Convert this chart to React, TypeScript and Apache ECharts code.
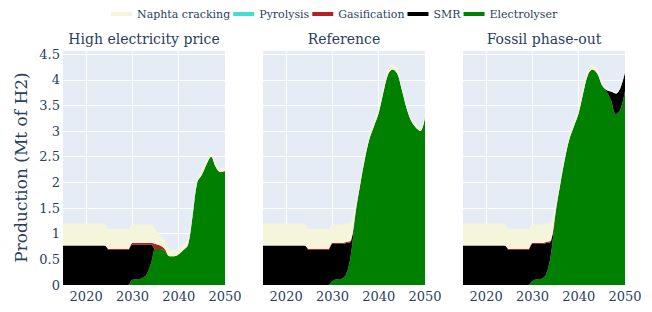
import React, { useEffect, useRef } from 'react';
import * as echarts from 'echarts';

const years = [2015, 2016, 2017, 2018, 2019, 2020, 2021, 2022, 2023, 2024, 2025, 2026, 2027, 2028, 2029, 2030, 2031, 2032, 2033, 2034, 2035, 2036, 2037, 2038, 2039, 2040, 2041, 2042, 2043, 2044, 2045, 2046, 2047, 2048, 2049, 2050];

const panelTitles = ['High electricity price', 'Reference', 'Fossil phase-out'];
const legendOrder = ['Naphta cracking', 'Pyrolysis', 'Gasification', 'SMR', 'Electrolyser'];
const stackOrder = ['Electrolyser', 'SMR', 'Gasification', 'Pyrolysis', 'Naphta cracking'];
const colors: Record<string, string> = {
  'Naphta cracking': '#F5F5DC',
  'Pyrolysis': '#40E0D0',
  'Gasification': '#B22222',
  'SMR': '#000000',
  'Electrolyser': '#008000',
};

// Panel 1: High electricity price
const hepElectrolyser = [0, 0, 0, 0, 0, 0, 0, 0, 0, 0, 0, 0, 0, 0, 0, 0.1, 0.11, 0.13, 0.2, 0.42, 0.7, 0.7, 0.66, 0.56, 0.56, 0.6, 0.68, 0.78, 1.35, 2.0, 2.15, 2.35, 2.5, 2.3, 2.2, 2.22];
const hepSMR = [0.77, 0.77, 0.77, 0.77, 0.77, 0.77, 0.77, 0.77, 0.77, 0.77, 0.68, 0.68, 0.68, 0.68, 0.68, 0.69, 0.68, 0.66, 0.59, 0.37, 0, 0, 0, 0, 0, 0, 0, 0, 0, 0, 0, 0, 0, 0, 0, 0];
const hepGasification = [0, 0, 0, 0, 0, 0, 0, 0, 0, 0, 0.02, 0.02, 0.02, 0.02, 0.02, 0.03, 0.03, 0.03, 0.03, 0.03, 0.1, 0.07, 0.04, 0, 0, 0, 0, 0, 0, 0, 0, 0, 0, 0, 0, 0];
const hepPyrolysis = [0, 0, 0, 0, 0, 0, 0, 0, 0, 0, 0, 0, 0, 0, 0, 0, 0, 0, 0, 0, 0, 0, 0, 0, 0, 0, 0, 0, 0, 0, 0, 0, 0, 0, 0, 0];
const hepNaphta = [0.43, 0.43, 0.43, 0.43, 0.43, 0.43, 0.43, 0.43, 0.43, 0.43, 0.39, 0.39, 0.39, 0.39, 0.39, 0.36, 0.36, 0.36, 0.36, 0.36, 0.27, 0.2, 0.17, 0.14, 0.12, 0.12, 0.12, 0.1, 0.08, 0.08, 0.07, 0.07, 0.07, 0.07, 0.07, 0.07];

// Panel 2: Reference
const refElectrolyser = [0, 0, 0, 0, 0, 0, 0, 0, 0, 0, 0, 0, 0, 0, 0, 0.08, 0.11, 0.12, 0.22, 0.6, 1.4, 1.95, 2.45, 2.85, 3.1, 3.35, 3.75, 4.1, 4.2, 4.12, 3.8, 3.45, 3.2, 3.07, 3.0, 3.27];
const refSMR = [0.77, 0.77, 0.77, 0.77, 0.77, 0.77, 0.77, 0.77, 0.77, 0.77, 0.68, 0.68, 0.68, 0.68, 0.68, 0.72, 0.69, 0.68, 0.6, 0.25, 0, 0, 0, 0, 0, 0, 0, 0, 0, 0, 0, 0, 0, 0, 0, 0];
const refGasification = [0, 0, 0, 0, 0, 0, 0, 0, 0, 0, 0.02, 0.02, 0.02, 0.02, 0.02, 0.02, 0.02, 0.02, 0.02, 0.02, 0.02, 0.01, 0, 0, 0, 0, 0, 0, 0, 0, 0, 0, 0, 0, 0, 0];
const refPyrolysis = [0, 0, 0, 0, 0, 0, 0, 0, 0, 0, 0, 0, 0, 0, 0, 0, 0, 0, 0, 0, 0, 0, 0, 0, 0, 0, 0, 0, 0, 0, 0, 0, 0, 0, 0, 0];
const refNaphta = [0.43, 0.43, 0.43, 0.43, 0.43, 0.43, 0.43, 0.43, 0.43, 0.43, 0.39, 0.39, 0.39, 0.39, 0.39, 0.36, 0.36, 0.36, 0.36, 0.36, 0.14, 0.1, 0.1, 0.1, 0.1, 0.1, 0.1, 0.1, 0.1, 0.1, 0.08, 0.06, 0.06, 0.06, 0.06, 0.06];

// Panel 3: Fossil phase-out
const fpoElectrolyser = [0, 0, 0, 0, 0, 0, 0, 0, 0, 0, 0, 0, 0, 0, 0, 0.08, 0.11, 0.12, 0.22, 0.6, 1.4, 1.95, 2.45, 2.85, 3.1, 3.35, 3.75, 4.1, 4.2, 4.12, 3.9, 3.77, 3.6, 3.33, 3.42, 3.78];
const fpoSMR = [0.77, 0.77, 0.77, 0.77, 0.77, 0.77, 0.77, 0.77, 0.77, 0.77, 0.68, 0.68, 0.68, 0.68, 0.68, 0.72, 0.69, 0.68, 0.6, 0.25, 0, 0, 0, 0, 0, 0, 0, 0, 0, 0, 0, 0.03, 0.17, 0.4, 0.42, 0.36];
const fpoGasification = [0, 0, 0, 0, 0, 0, 0, 0, 0, 0, 0.02, 0.02, 0.02, 0.02, 0.02, 0.02, 0.02, 0.02, 0.02, 0.02, 0.02, 0.01, 0, 0, 0, 0, 0, 0, 0, 0, 0, 0, 0, 0, 0, 0];
const fpoPyrolysis = [0, 0, 0, 0, 0, 0, 0, 0, 0, 0, 0, 0, 0, 0, 0, 0, 0, 0, 0, 0, 0, 0, 0, 0, 0, 0, 0, 0, 0, 0, 0, 0, 0, 0, 0, 0];
const fpoNaphta = [0.43, 0.43, 0.43, 0.43, 0.43, 0.43, 0.43, 0.43, 0.43, 0.43, 0.39, 0.39, 0.39, 0.39, 0.39, 0.36, 0.36, 0.36, 0.36, 0.36, 0.14, 0.1, 0.1, 0.1, 0.1, 0.1, 0.1, 0.1, 0.1, 0.1, 0.08, 0.03, 0.03, 0.03, 0.03, 0.03];

const panels: Record<string, number[]>[] = [
  { 'Electrolyser': hepElectrolyser, 'SMR': hepSMR, 'Gasification': hepGasification, 'Pyrolysis': hepPyrolysis, 'Naphta cracking': hepNaphta },
  { 'Electrolyser': refElectrolyser, 'SMR': refSMR, 'Gasification': refGasification, 'Pyrolysis': refPyrolysis, 'Naphta cracking': refNaphta },
  { 'Electrolyser': fpoElectrolyser, 'SMR': fpoSMR, 'Gasification': fpoGasification, 'Pyrolysis': fpoPyrolysis, 'Naphta cracking': fpoNaphta },
];

const FONT = 'DejaVu Serif';
const TXT = '#2a3f5f';
const gridLefts = [63, 263, 463];
const gridWidth = 162;

export default function App() {
  const ref = useRef<HTMLDivElement>(null);
  useEffect(() => {
    if (!ref.current) return;
    const chart = echarts.init(ref.current, undefined, { renderer: 'svg' });
    const grids = gridLefts.map((l) => ({
      left: l, width: gridWidth, top: 50, height: 235,
      show: true, backgroundColor: '#E5ECF6', borderWidth: 0,
    }));
    const showYear = (_i: number, v: string) => Number(v) % 10 === 0 && Number(v) !== 2010;
    const xAxes = gridLefts.map((_, i) => ({
      type: 'category', gridIndex: i, data: years.map(String), boundaryGap: false,
      axisLine: { show: false }, axisTick: { show: false },
      splitLine: { show: true, interval: showYear, lineStyle: { color: '#ffffff', width: 1 } },
      axisLabel: {
        fontFamily: FONT, fontSize: 13, color: TXT, margin: 5, interval: showYear,
      },
    }));
    const yAxes = gridLefts.map((_, i) => ({
      type: 'value', gridIndex: i, min: 0, max: 4.58, interval: 0.5,
      axisLine: { show: false }, axisTick: { show: false },
      splitLine: { show: true, lineStyle: { color: '#ffffff', width: 1 } },
      axisLabel: {
        show: i === 0, fontFamily: FONT, fontSize: 13, color: TXT, margin: 3,
        formatter: (v: number) => (v > 4.55 ? '' : String(v)),
      },
      name: i === 0 ? 'Production (Mt of H2)' : '',
      nameLocation: 'middle', nameGap: 34,
      nameTextStyle: { fontFamily: FONT, fontSize: 17, color: TXT },
    }));
    const series: any[] = [];
    panels.forEach((p, i) => {
      stackOrder.forEach((name) => {
        series.push({
          type: 'line', name, xAxisIndex: i, yAxisIndex: i, stack: 'p' + i,
          data: p[name],
          smooth: 0.35, symbol: 'none', showSymbol: false,
          lineStyle: { width: 0, color: colors[name] },
          itemStyle: { color: colors[name] },
          areaStyle: { color: colors[name], opacity: 1 },
          emphasis: { disabled: true }, silent: true,
        });
      });
    });
    chart.setOption({
      animation: false,
      backgroundColor: '#ffffff',
      legend: {
        data: legendOrder, left: 106, top: 1, icon: 'rect', itemWidth: 21, itemHeight: 4, itemGap: 3,
        textStyle: { fontFamily: FONT, fontSize: 11, color: TXT, lineHeight: 16 },
        selectedMode: false,
      },
      graphic: panelTitles.map((t, i) => ({
        type: 'text', x: gridLefts[i] + gridWidth / 2, y: 39,
        style: { text: t, fontFamily: FONT, fontSize: 14, fill: TXT, textAlign: 'center', textVerticalAlign: 'middle' },
      })),
      grid: grids, xAxis: xAxes, yAxis: yAxes, series,
    });
    return () => chart.dispose();
  }, []);
  return <div ref={ref} style={{ position: 'absolute', left: 0, top: 0, width: 652, height: 312 }} />;
}
